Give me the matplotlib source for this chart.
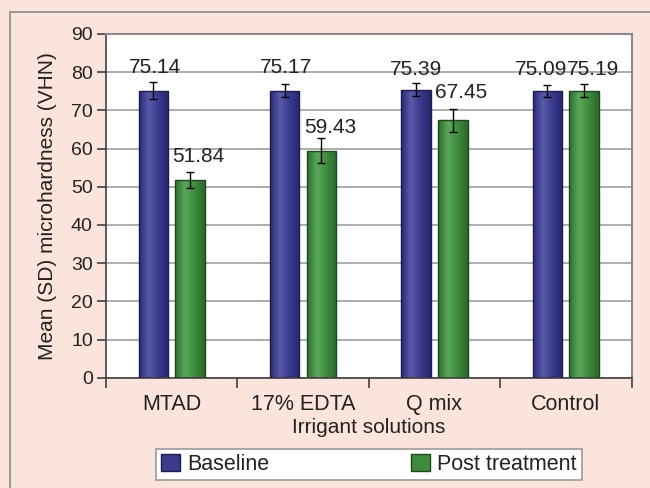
import matplotlib
matplotlib.use("Agg")
import matplotlib.pyplot as plt
import numpy as np
from matplotlib.colors import LinearSegmentedColormap
from matplotlib.patches import Rectangle

plt.rcParams['font.family'] = ['Liberation Sans', 'DejaVu Sans']

categories = ["MTAD", "17% EDTA", "Q mix", "Control"]
baseline = [75.14, 75.17, 75.39, 75.09]
post = [51.84, 59.43, 67.45, 75.19]
baseline_sd = [2.2, 1.7, 1.7, 1.6]
post_sd = [2.1, 3.3, 3.0, 1.6]
series_names = ["Baseline", "Post treatment"]

bg = '#FBE4DB'
txt = '#222222'
fig = plt.figure(figsize=(6.5, 4.88), dpi=100, facecolor=bg)

# outer frame of the figure panel (top/left only visible)
fig.patches.append(Rectangle((10/650, -0.05), 1.0, 0.05 + 1 - 12/488,
                             transform=fig.transFigure, fill=False,
                             edgecolor='#8a8a8a', lw=1.2))

ax = fig.add_axes([106/650, (488-377.7)/488, 525.5/650, 343.7/488])
ax.set_facecolor('white')

x = np.arange(len(categories))
w = 0.225
off = 0.14

blue_cmap = LinearSegmentedColormap.from_list('b', ['#2a2a78', '#5a5aaa', '#3a3a8e', '#26266e'])
green_cmap = LinearSegmentedColormap.from_list('g', ['#2c6e2c', '#5aa85a', '#3d8c3d', '#2a682a'])

def grad_bars(xs, vals, cmap, edge):
    bars = ax.bar(xs, vals, w, color='none', edgecolor=edge, lw=1.0, zorder=3)
    grad = np.linspace(0, 1, 64).reshape(1, -1)
    for b in bars:
        x0, y0 = b.get_x(), b.get_y()
        im = ax.imshow(grad, cmap=cmap, aspect='auto', zorder=2.5,
                       extent=(x0, x0 + b.get_width(), y0, y0 + b.get_height()))
        im.set_clip_path(b)
    return bars

grad_bars(x - off, baseline, blue_cmap, '#1c1c50')
grad_bars(x + off, post, green_cmap, '#1d4a1d')

ax.errorbar(x - off, baseline, yerr=baseline_sd, fmt='none', ecolor='black',
            elinewidth=1.0, capsize=3, capthick=1.0, zorder=4)
ax.errorbar(x + off, post, yerr=post_sd, fmt='none', ecolor='black',
            elinewidth=1.0, capsize=3, capthick=1.0, zorder=4)

# value labels: offsets in points from the bar top
blue_dx = [1, 1, 0, -4.5]
blue_dy = [10, 10, 7.5, 8.5]
green_dy = [10, 10, 13, 8.5]
for i, v in enumerate(baseline):
    ax.annotate(f"{v:.2f}", (x[i] - off, v), xytext=(blue_dx[i], blue_dy[i]),
                textcoords='offset points', ha='center', va='bottom',
                fontsize=15, color=txt, zorder=5)
for i, v in enumerate(post):
    ax.annotate(f"{v:.2f}", (x[i] + off - w / 2, v), xytext=(-2, green_dy[i]),
                textcoords='offset points', ha='left', va='bottom',
                fontsize=15, color=txt, zorder=5)

ax.set_xlim(-0.5, len(categories) - 0.5)
ax.set_ylim(0, 90)
ax.set_yticks(range(0, 91, 10))
ax.yaxis.grid(True, color='#a0a0a0', lw=1.2, zorder=0)
ax.set_axisbelow(True)

ax.set_xticks(x)
ax.set_xticklabels(categories, fontsize=15.5, color=txt)
ax.set_xticks(np.arange(-0.5, len(categories), 1), minor=True)
ax.tick_params(axis='x', which='major', length=0, pad=12)
ax.tick_params(axis='x', which='minor', length=7, width=1.2, color='#404040')
ax.tick_params(axis='y', length=6.5, width=1.2, color='#404040', labelsize=14, labelcolor=txt, pad=3)

for s in ['top', 'right']:
    ax.spines[s].set_color('#8a8a8a')
    ax.spines[s].set_linewidth(1.5)
for s in ['left', 'bottom']:
    ax.spines[s].set_color('#404040')
    ax.spines[s].set_linewidth(1.2)

ax.set_xlabel("Irrigant solutions", fontsize=15, color=txt, labelpad=2)
ax.set_ylabel("Mean (SD) microhardness (VHN)", fontsize=15, color=txt, labelpad=10)

handles = [Rectangle((0, 0), 1, 1, facecolor='#3a3a8e', edgecolor='#1c1c50'),
           Rectangle((0, 0), 1, 1, facecolor='#3d8c3d', edgecolor='#1d4a1d')]
leg = fig.legend(handles, series_names, ncol=2, loc='center',
                 bbox_to_anchor=(369/650, 1 - 464.5/488), fontsize=15.5,
                 frameon=True, fancybox=False, edgecolor='#9a9a9a',
                 facecolor='white', framealpha=1,
                 handlelength=0.85, handleheight=0.85, handletextpad=0.35,
                 columnspacing=6.6, borderpad=0.25)
leg.get_frame().set_linewidth(1.2)
for t in leg.get_texts():
    t.set_color(txt)

fig.savefig("out.png", dpi=100, facecolor=bg)
